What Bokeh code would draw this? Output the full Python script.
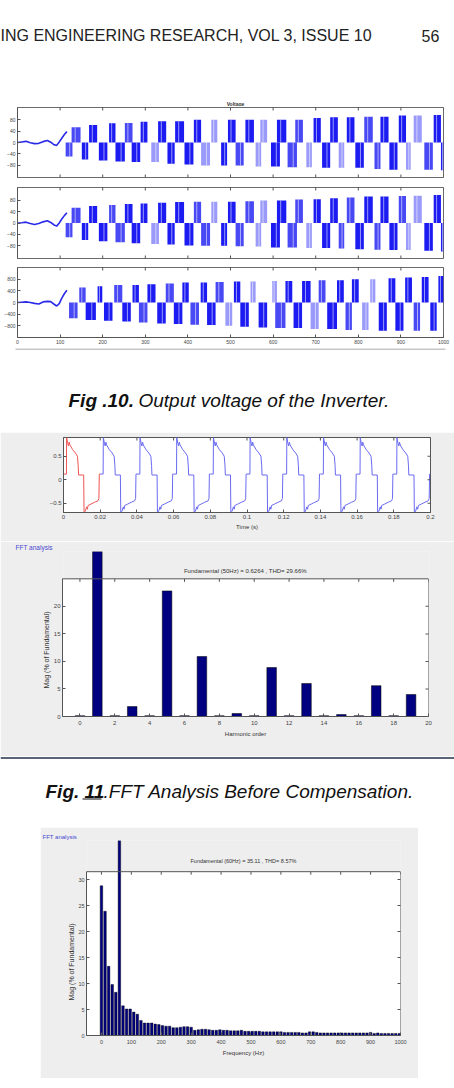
from bokeh.plotting import figure
from bokeh.layouts import column, row
from bokeh.models import (Range1d, FixedTicker, Span, BoxAnnotation, Title, Spacer,
                          CustomJSTickFormatter)
from bokeh.core.properties import value
from bokeh.embed import file_html
from bokeh.resources import INLINE

# ---------------- texts ----------------
HEADER_TEXT = "ING ENGINEERING RESEARCH, VOL 3, ISSUE 10"
PAGE_NUMBER = "56"
F10_TITLE = "Voltage"
CAP10_BOLD = "Fig .10."
CAP10_TEXT = "Output voltage of the Inverter."
CAP11_BOLD = "Fig. 11"
CAP11_TEXT = ".FFT Analysis Before Compensation."
FFT_PANEL = "FFT analysis"
F11_TITLE = "Fundamental (50Hz) = 0.6264 , THD= 29.66%"
F12_TITLE = "Fundamental (60Hz) = 35.11 , THD= 8.57%"
MAG_LABEL = "Mag (% of Fundamental)"

# ---------------- Fig 10 : inverter output voltage (3 panels) ----------------
F10_XTICKS = [0, 100, 200, 300, 400, 500, 600, 700, 800, 900, 1000]
P12_YTICKS = [-80, -40, 0, 40, 80]
P3_YTICKS = [-800, -400, 0, 400, 800]

P12_POS_X0 = [127, 168, 215, 252, 289, 330, 370, 414, 455, 494, 535, 570, 609, 652, 695, 734, 773, 814, 852, 895, 930, 977]
P12_POS_X1 = [148, 187, 230, 270, 305, 349, 391, 431, 469, 512, 555, 586, 631, 670, 712, 752, 791, 834, 871, 912, 949, 994]
P1_POS_TOP = [53, 61, 67, 68, 72, 74, 74, 79, 79, 79, 79, 79, 79, 79, 85, 88, 88, 90, 90, 94, 94, 96]
P2_POS_TOP = [54, 60, 63, 67, 69, 71, 74, 75, 75, 75, 77, 79, 79, 83, 84, 87, 90, 93, 93, 95, 96, 99]
P12_NEG_X0 = [113, 151, 191, 230, 268, 314, 352, 392, 431, 478, 512, 559, 595, 634, 678, 715, 754, 793, 838, 873, 912, 955, 994]
P12_NEG_X1 = [129, 166, 211, 252, 288, 332, 369, 413, 452, 492, 531, 572, 616, 656, 691, 734, 767, 813, 852, 892, 923, 975, 1000]
P1_NEG_BOT = [-49, -59, -63, -66, -68, -68, -74, -77, -80, -80, -80, -84, -84, -86, -86, -88, -88, -88, -92, -95, -95, -95, -97]
P2_NEG_BOT = [-50, -60, -64, -68, -71, -74, -76, -79, -80, -80, -82, -83, -86, -86, -88, -88, -90, -92, -94, -95, -95, -98, -100]

P3_POS_X0 = [145, 188, 227, 270, 305, 348, 387, 430, 465, 508, 547, 598, 629, 668, 707, 750, 785, 828, 871, 910, 949, 988]
P3_POS_X1 = [160, 199, 246, 285, 324, 367, 402, 445, 484, 523, 559, 609, 645, 688, 723, 766, 801, 840, 887, 926, 965, 1000]
P3_POS_TOP = [513, 560, 604, 604, 627, 650, 684, 684, 700, 718, 718, 741, 741, 741, 764, 764, 798, 798, 832, 855, 878, 912]
P3_NEG_X0 = [121, 160, 203, 246, 285, 328, 367, 406, 445, 488, 523, 566, 605, 648, 688, 727, 770, 809, 848, 887, 930, 969]
P3_NEG_X1 = [141, 184, 223, 266, 305, 348, 387, 426, 465, 504, 543, 586, 629, 668, 707, 750, 785, 824, 867, 906, 945, 984]
P3_NEG_BOT = [-536, -604, -627, -650, -684, -718, -741, -764, -775, -798, -832, -855, -878, -878, -912, -912, -946, -946, -969, -969, -969, -969]

TR_X = [0, 10, 20, 30, 40, 50, 60, 70, 78, 86, 92, 98, 104, 110, 116]
P1_TR_V = [0, 2, 4, -1, -4, -3, 3, 7, 1, -8, -10, 2, 15, 28, 38]
P2_TR_V = [0, 1, 3, -2, -5, -2, 4, 8, 2, -7, -11, 0, 14, 26, 36]
P3_TR_V = [0, 10, 20, 0, -30, -50, 20, 40, 30, -60, -120, -40, 150, 300, 420]

# ---------------- Fig 11 : time signal ----------------
T_TICKS = [0, 0.02, 0.04, 0.06, 0.08, 0.1, 0.12, 0.14, 0.16, 0.18, 0.2]
V_TICKS = [-0.5, 0, 0.5]
CYCLE_T_MS = [0.0, 1.6, 1.7, 2.3, 2.7, 3.1, 3.5, 5.0, 6.5, 7.6, 8.0, 8.2, 11.0, 11.2, 11.8, 12.6, 13.0, 13.4, 15.0, 17.0, 18.8, 19.3, 19.5, 20.0]
CYCLE_V = [0.12, 0.12, 0.90, 0.78, 0.72, 0.80, 0.74, 0.64, 0.57, 0.50, 0.30, 0.10, 0.10, -0.70, -0.68, -0.58, -0.63, -0.55, -0.52, -0.48, -0.45, -0.40, 0.12, 0.12]
CYCLE_STARTS = [0.0, 0.02, 0.04, 0.06, 0.08, 0.10, 0.12, 0.14, 0.16, 0.18]

# ---------------- Fig 11 : FFT before compensation ----------------
HARMONIC = [0, 1, 2, 3, 4, 5, 6, 7, 8, 9, 10, 11, 12, 13, 14, 15, 16, 17, 18, 19]
MAG11 = [0.15, 100, 0.15, 1.8, 0.15, 22.8, 0.15, 10.9, 0.15, 0.55, 0.15, 8.9, 0.15, 6.0, 0.15, 0.35, 0.15, 5.6, 0.15, 4.0]
H_TICKS = [0, 2, 4, 6, 8, 10, 12, 14, 16, 18, 20]
M11_TICKS = [0, 5, 10, 15, 20]

# ---------------- Fig 12 : FFT after compensation ----------------
FREQ12 = list(range(0, 1000, 12))
MAG12 = [28.8, 23.9, 13.3, 9.8, 8.3, 100, 5.7, 5.1, 5.1, 4.5,
         4.1, 2.9, 2.4, 2.4, 2.4, 2.2, 2.1, 1.9, 1.8, 1.8,
         1.5, 1.5, 1.6, 1.7, 1.7, 1.6, 1.0, 1.1, 1.2, 1.2,
         1.1, 1.0, 1.0, 1.1, 1.0, 1.0, 0.9, 0.9, 0.9, 1.0,
         0.8, 0.8, 0.8, 0.8, 0.8, 0.7, 0.7, 0.7, 0.7, 0.7,
         0.7, 0.6, 0.6, 0.6, 0.6, 0.6, 0.5, 0.5, 0.7, 0.7,
         0.6, 0.5, 0.5, 0.5, 0.5, 0.5, 0.5, 0.5, 0.5, 0.5,
         0.5, 0.5, 0.5, 0.5, 0.5, 0.6, 0.4, 0.5, 0.4, 0.4,
         0.4, 0.4, 0.4, 0.4]
F_TICKS = [0, 100, 200, 300, 400, 500, 600, 700, 800, 900, 1000]
M12_TICKS = [0, 5, 10, 15, 20, 25, 30]

# ---------------- styles ----------------
W = 454
FONT = "Liberation Sans"
GRAY = "#eeeeee"
AX = "#555555"
NAVY = "#000080"
SHADES = ["#1c1cf2", "#4848f4", "#9a9afa"]
P1_POS_SH = [1, 0, 0, 1, 0, 0, 0, 0, 2, 0, 0, 2, 0, 1, 0, 0, 0, 1, 0, 0, 2, 0]
P1_NEG_SH = [1, 0, 0, 0, 0, 2, 0, 0, 2, 0, 1, 2, 0, 1, 2, 0, 2, 0, 1, 0, 2, 1, 0]
P2_POS_SH = [1, 0, 1, 0, 0, 0, 0, 1, 2, 0, 1, 2, 0, 1, 0, 0, 1, 0, 0, 1, 2, 0]
P2_NEG_SH = [1, 0, 0, 1, 0, 2, 0, 0, 1, 0, 1, 2, 0, 1, 2, 0, 1, 0, 1, 0, 2, 0, 0]
P3_POS_SH = [1, 0, 1, 0, 0, 1, 0, 0, 1, 0, 2, 2, 0, 0, 1, 0, 0, 2, 0, 0, 0, 0]
P3_NEG_SH = [1, 0, 0, 0, 1, 0, 0, 1, 0, 2, 0, 0, 1, 0, 2, 0, 1, 2, 0, 0, 1, 0]


def blank(h, w=W, bg="white"):
    p = figure(width=w, height=h, x_range=Range1d(0, w), y_range=Range1d(h, 0),
               x_axis_type=None, y_axis_type=None, output_backend="svg",
               toolbar_location=None, min_border=0, outline_line_color=None,
               background_fill_color=bg, border_fill_color=bg)
    p.title.visible = False
    return p


def style_axis(ax, ticks, font_size, standoff=2):
    ax.ticker = FixedTicker(ticks=ticks)
    ax.major_tick_in = 3
    ax.major_tick_out = 0
    ax.minor_tick_in = 0
    ax.minor_tick_out = 0
    ax.axis_line_color = AX
    ax.major_tick_line_color = AX
    ax.major_label_text_font = FONT
    ax.major_label_text_color = "#444444"
    ax.major_label_text_font_size = font_size
    ax.major_label_standoff = standoff


def ticks_x(p, ticks, y_edge):
    # inward tick marks on a horizontal frame edge (half of each mark is clipped away)
    p.rect(x=ticks, y=y_edge, width=1, height=6, width_units="screen",
           height_units="screen", fill_color=AX, line_color=None)


def ticks_y(p, ticks, x_edge):
    p.rect(x=x_edge, y=ticks, width=6, height=1, width_units="screen",
           height_units="screen", fill_color=AX, line_color=None)


def txt(p, x, y, s, size, style="normal", align="left", color="#111111"):
    p.text(x=[x], y=[y], text=[s], text_font=value(FONT), text_font_size=size,
           text_font_style=style, text_align=align, text_baseline="middle",
           text_color=color)


def side_title(p, text, loc, align, offset, size, color="#333333"):
    p.add_layout(Title(text=text, align=align, offset=offset, standoff=1,
                       text_font=FONT, text_font_size=size, text_font_style="normal",
                       text_color=color), loc)


# ---------- header ----------
hdr = blank(106)
txt(hdr, 0, 35, HEADER_TEXT, "16px", color="#222222")
txt(hdr, 421, 35, PAGE_NUMBER, "16px", color="#222222")
txt(hdr, 235, 103, F10_TITLE, "5px", style="bold", align="center", color="#333333")


def f10_panel(h, btop, bbot, ylim, yticks, px0, px1, ptop, psh, nx0, nx1, nbot, nsh, trv, xlabels):
    p = figure(width=W, height=h, x_range=Range1d(0, 1000), y_range=Range1d(-ylim, ylim),
               output_backend="svg", toolbar_location=None,
               min_border_left=17, min_border_right=11, min_border_top=btop,
               min_border_bottom=bbot, outline_line_color="#6a6a6a",
               background_fill_color="white", border_fill_color="white")
    p.title.visible = False
    p.grid.visible = False
    p.quad(left=px0, right=px1, bottom=0, top=ptop,
           fill_color=[SHADES[i] for i in psh], line_color=None)
    p.quad(left=nx0, right=nx1, bottom=nbot, top=0,
           fill_color=[SHADES[i] for i in nsh], line_color=None)
    # thin light gaps between the PWM pulses inside each block
    gp = [a + 0.4 * (b - a) for a, b in zip(px0, px1)]
    gn = [a + 0.6 * (b - a) for a, b in zip(nx0, nx1)]
    p.segment(x0=gp, y0=0, x1=gp, y1=ptop, line_color="white", line_alpha=0.55, line_width=1)
    p.segment(x0=gn, y0=0, x1=gn, y1=nbot, line_color="white", line_alpha=0.55, line_width=1)
    p.line(TR_X, trv, line_color="#2a2ae8", line_width=1.6)
    style_axis(p.yaxis[0], yticks, "5px")
    ticks_x(p, F10_XTICKS, ylim)
    if xlabels:
        style_axis(p.xaxis[0], F10_XTICKS, "5px")
    else:
        p.xaxis.visible = False
        ticks_x(p, F10_XTICKS, -ylim)
    return p


p1 = f10_panel(76, 1, 5, 122, P12_YTICKS, P12_POS_X0, P12_POS_X1, P1_POS_TOP, P1_POS_SH,
               P12_NEG_X0, P12_NEG_X1, P1_NEG_BOT, P1_NEG_SH, P1_TR_V, False)
p2 = f10_panel(80, 5, 4, 125, P12_YTICKS, P12_POS_X0, P12_POS_X1, P2_POS_TOP, P2_POS_SH,
               P12_NEG_X0, P12_NEG_X1, P2_NEG_BOT, P2_NEG_SH, P2_TR_V, False)
p3 = f10_panel(86, 5, 11, 1200, P3_YTICKS, P3_POS_X0, P3_POS_X1, P3_POS_TOP, P3_POS_SH,
               P3_NEG_X0, P3_NEG_X1, P3_NEG_BOT, P3_NEG_SH, P3_TR_V, True)

# ---------- caption 10 ----------
cap10 = blank(84)
cap10.segment(x0=[15], y0=[0.5], x1=[445], y1=[0.5], line_color="#b4b4b4", line_width=1.5)
txt(cap10, 68, 52, CAP10_BOLD, "19px", style="bold italic")
txt(cap10, 138, 52, CAP10_TEXT, "19px", style="italic")

# ---------- Fig 11 time plot ----------
T_MAX, V_MIN, V_MAX = 0.2, -0.70, 0.90
pt = figure(width=W, height=109, x_range=Range1d(0, T_MAX), y_range=Range1d(V_MIN, V_MAX),
            output_backend="svg", toolbar_location=None,
            min_border_left=63, min_border_right=24, min_border_top=5, min_border_bottom=29,
            outline_line_color=AX, background_fill_color="white", border_fill_color=GRAY)
pt.title.visible = False
pt.grid.visible = False
for k, t0 in enumerate(CYCLE_STARTS):
    pt.line([t0 + t / 1000 for t in CYCLE_T_MS], CYCLE_V,
            line_color="#ee5555" if k == 0 else "#6a6af0", line_width=1)
style_axis(pt.xaxis[0], T_TICKS, "6px")
pt.xaxis[0].formatter = CustomJSTickFormatter(code="return String(Math.round(tick*100)/100);")
pt.xaxis[0].axis_label = "Time (s)"
pt.xaxis[0].axis_label_standoff = 2
style_axis(pt.yaxis[0], V_TICKS, "6px")
ticks_y(pt, V_TICKS, T_MAX)
ticks_x(pt, T_TICKS, V_MAX)

# ---------- Fig 11 FFT ----------
X11_MIN, X11_MAX, BOX11 = -1, 20, 25
pf = figure(width=W, height=215, x_range=Range1d(X11_MIN, X11_MAX), y_range=Range1d(0, 29.96),
            output_backend="svg", toolbar_location=None,
            min_border_left=62, min_border_right=26, min_border_top=9, min_border_bottom=40,
            outline_line_color=None, background_fill_color=GRAY, border_fill_color=GRAY)
pf.title.visible = False
pf.grid.visible = False
pf.add_layout(BoxAnnotation(left=X11_MIN, right=X11_MAX, bottom=0, top=BOX11,
                            fill_color="white", fill_alpha=1, line_color=None, level="underlay"))
pf.vbar(x=HARMONIC, top=MAG11, width=0.55, fill_color=NAVY, line_color="#000000", line_width=0.5)
style_axis(pf.xaxis[0], H_TICKS, "6px", 4)
pf.xaxis[0].axis_label = "Harmonic order"
style_axis(pf.yaxis[0], M11_TICKS, "6px")
pf.yaxis[0].bounds = (0, BOX11)
pf.add_layout(Span(location=BOX11, dimension="width", line_color=AX, line_width=1))
pf.segment(x0=[X11_MAX], y0=[0], x1=[X11_MAX], y1=[BOX11], line_color=AX, line_width=1)
ticks_y(pf, M11_TICKS, X11_MAX)
pf.segment(x0=H_TICKS, y0=BOX11, x1=H_TICKS, y1=BOX11 - 0.55, line_color=AX, line_width=1)
txt(pf, 9.49, 26.5, F11_TITLE, "6px", align="center", color="#333333")
side_title(pf, MAG_LABEL, "left", "left", 28, "7px")
side_title(pf, FFT_PANEL, "above", "left", -47, "6.5px", color="#4848d0")

# ---------- caption 11 ----------
cap11 = blank(71)
cap11.add_layout(Span(location=1.5, dimension="width", line_color="#5a6678", line_width=2))
txt(cap11, 45, 35, CAP11_BOLD, "19px", style="bold italic")
txt(cap11, 103, 35, CAP11_TEXT, "19px", style="italic")
cap11.segment(x0=[82], y0=[42.5], x1=[101], y1=[42.5], line_color="#111111", line_width=1.2)

# ---------- Fig 12 FFT ----------
X12_MIN, X12_MAX, BOX12 = -50, 1000, 31.5
pg = figure(width=378, height=251, x_range=Range1d(X12_MIN, X12_MAX), y_range=Range1d(0, 37.5),
            output_backend="svg", toolbar_location=None,
            min_border_left=46, min_border_right=18, min_border_top=13, min_border_bottom=43,
            outline_line_color=None, background_fill_color=GRAY, border_fill_color=GRAY)
pg.title.visible = False
pg.grid.visible = False
pg.add_layout(BoxAnnotation(left=X12_MIN, right=X12_MAX, bottom=0, top=BOX12,
                            fill_color="white", fill_alpha=1, line_color=None, level="underlay"))
pg.vbar(x=FREQ12, top=MAG12, width=8.5, fill_color=NAVY, line_color="#000000", line_width=0.4)
style_axis(pg.xaxis[0], F_TICKS, "5.5px", 4)
pg.xaxis[0].axis_label = "Frequency (Hz)"
style_axis(pg.yaxis[0], M12_TICKS, "5.5px")
pg.yaxis[0].bounds = (0, BOX12)
pg.add_layout(Span(location=BOX12, dimension="width", line_color=AX, line_width=1))
pg.segment(x0=[X12_MAX], y0=[0], x1=[X12_MAX], y1=[BOX12], line_color=AX, line_width=1)
ticks_y(pg, M12_TICKS, X12_MAX)
pg.segment(x0=F_TICKS, y0=BOX12, x1=F_TICKS, y1=BOX12 - 0.58, line_color=AX, line_width=1)
txt(pg, 475, 33.5, F12_TITLE, "5.5px", align="center", color="#333333")
side_title(pg, MAG_LABEL, "left", "left", 35, "7px")
side_title(pg, FFT_PANEL, "above", "left", -44, "6px", color="#4848d0")

for p in (pt, pf, pg):
    ax = p.xaxis[0]
    ax.axis_label_text_font = FONT
    ax.axis_label_text_font_size = "6px"
    ax.axis_label_text_font_style = "normal"
    ax.axis_label_text_color = "#333333"
for p in (pf, pg):
    p.xaxis[0].axis_label_standoff = 3

fig12_row = row(Spacer(width=40, height=251), pg, Spacer(width=36, height=251))
layout = column(row(hdr), row(p1), row(p2), row(p3), row(cap10), row(pt), row(pf),
                row(cap11), fig12_row, Spacer(width=W, height=10))

open("out.html", "w").write(file_html(layout, INLINE))
